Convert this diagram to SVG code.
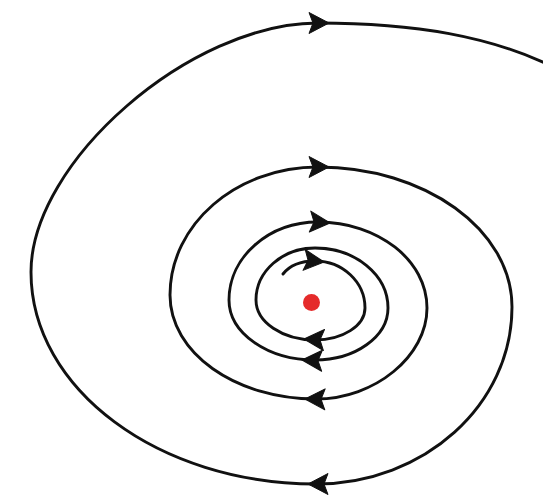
<svg xmlns="http://www.w3.org/2000/svg" xmlns:xlink="http://www.w3.org/1999/xlink" width="543" height="502" viewBox="0 0 543 502">
  <style>
    .curve { fill: none; stroke: #111; stroke-width: 2.9; stroke-linecap: round; stroke-linejoin: round; }
    .head { fill: #111; stroke: #111; stroke-width: 1; stroke-linejoin: round; }
    .point { fill: #e52b2b; }
  </style>
  <defs>
    <path id="ah" class="head" d="M0,0 L-20,-10.5 L-16,0 L-20,10.5 Z"/>
  </defs>
  <rect width="543" height="502" fill="#ffffff"/>
  <g id="connectors">
    <path id="spiral" class="curve" d="M283,274 C290,265 300,261 315,261
      C342.6,261 365,282 365,308
      C365,325.7 342.6,340 315,340
      C282.4,340 256,322.1 256,300
      C256,271.3 282.4,248 315,248
      C355.3,248 388,274.9 388,308
      C388,336.7 355.3,360 315,360
      C267.5,360 229,333.1 229,300
      C229,256.9 268.8,222 318,222
      C378.2,222 427,260.5 427,308
      C427,356 375,399 316,399
      C235.4,399 170,353 170,295
      C170,224.3 236.3,167 318,167
      C425.1,167 512,229.7 512,307
      C512,404.8 424.3,484 316,484
      C158.7,484 31,389.1 31,272
      C31,162 190,23 318,23
      C420,23 490,38 545,63"/>
    <use xlink:href="#ah" href="#ah" transform="translate(329,23)"/>
    <use xlink:href="#ah" href="#ah" transform="translate(329,167)"/>
    <use xlink:href="#ah" href="#ah" transform="translate(330,223) rotate(4)"/>
    <use xlink:href="#ah" href="#ah" transform="translate(324,262) rotate(6)"/>
    <use xlink:href="#ah" href="#ah" transform="translate(304,339) rotate(183)"/>
    <use xlink:href="#ah" href="#ah" transform="translate(302,360) rotate(182)"/>
    <use xlink:href="#ah" href="#ah" transform="translate(305,399) rotate(181)"/>
    <use xlink:href="#ah" href="#ah" transform="translate(308,484) rotate(180)"/>
  </g>
  <g id="equilibrium">
    <ellipse class="point" cx="311.5" cy="302.5" rx="8.5" ry="8.5"/>
  </g>
</svg>
